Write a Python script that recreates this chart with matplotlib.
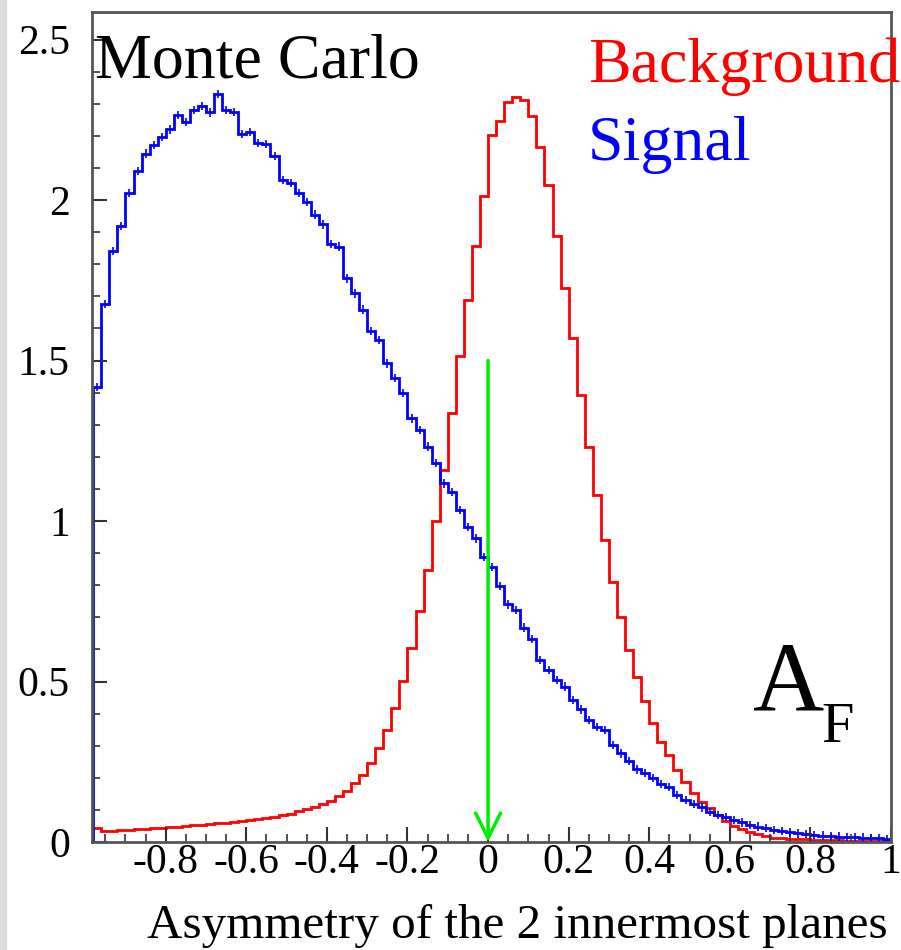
import numpy as np
import matplotlib
matplotlib.use("Agg")
import matplotlib.pyplot as plt
from matplotlib.ticker import MultipleLocator, FixedLocator

# bins of 0.02 from -0.98 to 1.0
bin_lo = -0.98
bin_hi = 1.0

signal = [1.418, 1.676, 1.842, 1.919, 2.023, 2.091, 2.145, 2.171, 2.196, 2.220,
          2.266, 2.244, 2.280, 2.293, 2.273, 2.330, 2.280, 2.274, 2.206, 2.213,
          2.177, 2.175, 2.137, 2.062, 2.054, 2.023, 1.995, 1.955, 1.924, 1.863,
          1.855, 1.756, 1.709, 1.659, 1.593, 1.564, 1.491, 1.445, 1.398, 1.320,
          1.283, 1.232, 1.180, 1.117, 1.091, 1.034, 0.982, 0.946, 0.887, 0.856,
          0.797, 0.740, 0.723, 0.668, 0.633, 0.567, 0.536, 0.505, 0.484, 0.442,
          0.413, 0.380, 0.359, 0.349, 0.302, 0.276, 0.253, 0.226, 0.214, 0.200,
          0.181, 0.172, 0.146, 0.131, 0.118, 0.108, 0.094, 0.084, 0.077, 0.069,
          0.061, 0.053, 0.048, 0.043, 0.037, 0.034, 0.030, 0.027, 0.024, 0.022,
          0.020, 0.018, 0.017, 0.016, 0.015, 0.014, 0.012, 0.012, 0.008]

background = [0.045, 0.035, 0.035, 0.037, 0.038, 0.040, 0.042, 0.044, 0.045, 0.046,
              0.048, 0.050, 0.052, 0.054, 0.056, 0.058, 0.060, 0.062, 0.065, 0.069,
              0.072, 0.075, 0.078, 0.083, 0.088, 0.097, 0.102, 0.110, 0.118, 0.128,
              0.143, 0.159, 0.185, 0.209, 0.247, 0.294, 0.349, 0.416, 0.503, 0.603,
              0.720, 0.849, 1.001, 1.159, 1.337, 1.515, 1.690, 1.857, 2.012, 2.203,
              2.245, 2.306, 2.321, 2.313, 2.263, 2.165, 2.048, 1.889, 1.726, 1.571,
              1.392, 1.231, 1.080, 0.942, 0.811, 0.702, 0.597, 0.515, 0.438, 0.372,
              0.312, 0.271, 0.224, 0.188, 0.154, 0.126, 0.105, 0.084, 0.066, 0.050,
              0.040, 0.032, 0.025, 0.019, 0.014, 0.012, 0.010, 0.009, 0.008, 0.007,
              0.006, 0.005, 0.005, 0.004, 0.004, 0.003, 0.003, 0.003, 0.002]

xticks = [-0.8, -0.6, -0.4, -0.2, 0, 0.2, 0.4, 0.6, 0.8, 1]
xtick_labels = ["-0.8", "-0.6", "-0.4", "-0.2", "0", "0.2", "0.4", "0.6", "0.8", "1"]
yticks = [0, 0.5, 1, 1.5, 2, 2.5]
ytick_labels = ["0", "0.5", "1", "1.5", "2", "2.5"]
cut = 0.0
cut_top = 1.5

plt.rcParams['font.family'] = ['Liberation Serif', 'DejaVu Serif']

W, H = 901, 950
fig = plt.figure(figsize=(W / 100, H / 100), dpi=100)
ax = fig.add_axes([92 / W, 1 - 842 / H, 799 / W, 830 / H])

# light gray strip at left edge of the picture
fig.patches.append(plt.Rectangle((0, 0), 6 / W, 1, transform=fig.transFigure,
                                 color="#dcdcdc", zorder=0))

edges = np.linspace(bin_lo, bin_hi, len(signal) + 1)
centers = 0.5 * (edges[:-1] + edges[1:])

ax.stairs(background, edges, baseline=0, color="#ff0000", lw=2)
ax.stairs(signal, edges, baseline=0, color="#0000ff", lw=2)
ax.errorbar(centers, signal, yerr=0.013, fmt="none", ecolor="#0000ff", elinewidth=1.2)

ax.annotate("", xy=(cut, 0), xytext=(cut, cut_top),
            arrowprops=dict(arrowstyle="->", color="#00ee00", lw=2.5,
                            mutation_scale=45, shrinkA=0, shrinkB=0))

ax.set_xlim(-0.983, 1.0)
ax.set_ylim(0, 2.586)

ax.xaxis.set_major_locator(FixedLocator(xticks))
ax.set_xticklabels(xtick_labels)
ax.xaxis.set_minor_locator(MultipleLocator(0.05))
ax.yaxis.set_major_locator(FixedLocator(yticks))
ax.set_yticklabels(ytick_labels)
ax.yaxis.set_minor_locator(MultipleLocator(0.1))

ax.tick_params(which="both", direction="in", colors="#333333", labelcolor="black",
               labelsize=30, top=False, right=False)
ax.tick_params(axis="y", which="major", length=11, width=1.5, pad=16)
ax.tick_params(axis="y", which="minor", length=6, width=1.2)
ax.tick_params(axis="x", which="major", length=11, width=1.5, pad=1)
ax.tick_params(axis="x", which="minor", length=6, width=1.2)

for s in ax.spines.values():
    s.set_color("#555555")
    s.set_linewidth(2)

fig.text(95 / W, 1 - 78 / H, "Monte Carlo", fontsize=46, color="black", va="baseline")
fig.text(588 / W, 1 - 82 / H, "Background", fontsize=46, color="#ff0000", va="baseline")
fig.text(588 / W, 1 - 160 / H, "Signal", fontsize=46, color="#0000ff", va="baseline")
fig.text(753 / W, 1 - 710 / H, "A", fontsize=71, color="black", va="baseline")
fig.text(821 / W, 1 - 742 / H, "F", fontsize=42, color="black", va="baseline")
fig.text(888 / W, 1 - 938 / H, "Asymmetry of the 2 innermost planes", fontsize=35.4,
         color="black", ha="right", va="baseline")

fig.savefig("out.png", dpi=100)
